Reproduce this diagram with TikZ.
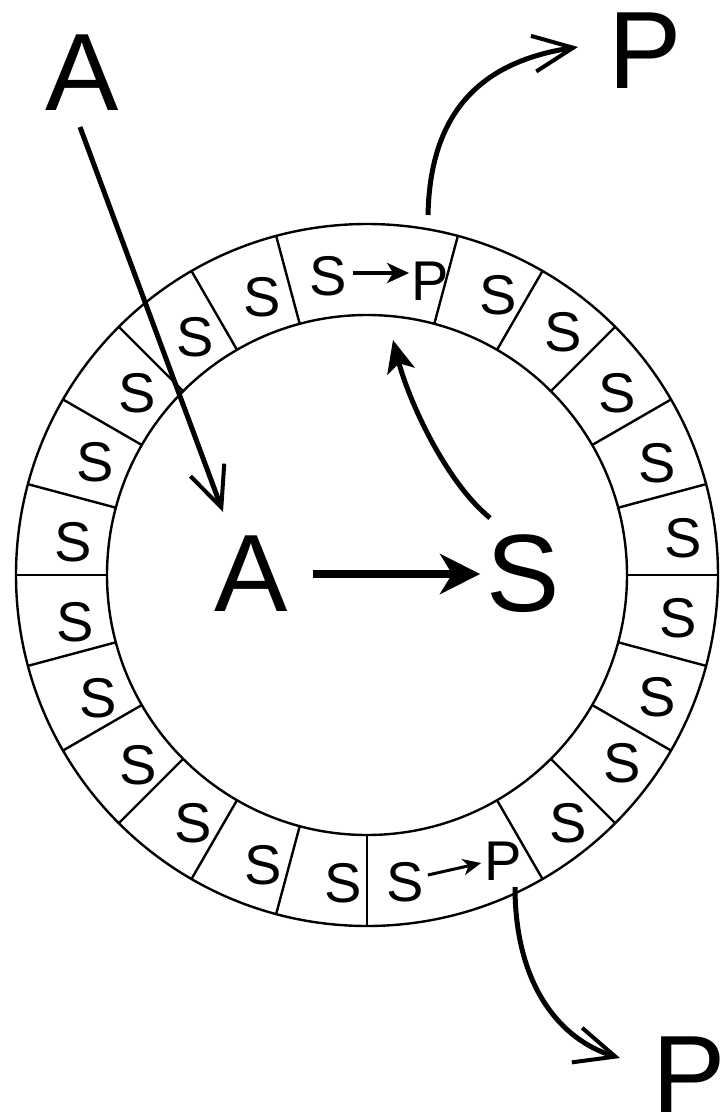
\documentclass[tikz,border=0pt]{standalone}
\usepackage{fontspec}
\setmainfont{Liberation Sans}
\usetikzlibrary{arrows.meta}
\begin{document}
\begin{tikzpicture}[x=1pt,y=-1pt,
  ring/.style={line width=2.4pt},
  bigletter/.style={inner sep=0pt, font=\fontsize{110}{110}\selectfont},
  cellletter/.style={inner sep=0pt, font=\fontsize{56}{56}\selectfont},
  openarrow/.style={line width=5pt, -{Straight Barb[length=40pt,width=36pt,line width=4pt]}},
  bigarrow/.style={line width=8pt, -{Stealth[length=40pt,width=40pt,inset=12pt]}},
  curvearrow/.style={line width=5pt, -{Stealth[length=32pt,width=28pt,inset=8pt]}},
  smallarrow/.style={line width=4pt, -{Stealth[length=22pt,width=20pt,inset=6pt]}},
  tinyarrow/.style={line width=3pt, -{Stealth[length=18pt,width=16pt,inset=5pt]}}
]
\fill[white] (0,0) rectangle (720,1119);
\useasboundingbox (0,0) rectangle (720,1119);

% ring
\coordinate (ctr) at (367,575);
\draw[ring] (ctr) circle[radius=351pt];
\draw[ring] (ctr) circle[radius=260pt];
\foreach \a in {0,15,30,45,60,75,105,120,135,150,165,180,195,210,225,240,255,270,300,315,330,345}
  \draw[ring] ({367+260*cos(\a)},{575-260*sin(\a)}) -- ({367+351*cos(\a)},{575-351*sin(\a)});

% cell letters
\foreach \x/\y [count=\i] in {683/538,657/463,617/393,563/332,498/295,
    262/297,195/337,137/393,95/462,73/542,
    75/622,98/698,138/765,193/823,263/865,343/883,
    568/823,622/763,657/697,678/618}
  \node[cellletter] (cell\i) at (\x,\y) {S};

% S -> P cells
\node[cellletter] (sTop) at (328,276) {S};
\node[cellletter] (pTop) at (430,281) {P};
\draw[smallarrow] ([xshift=6pt,yshift=3pt]sTop.east) -- ([xshift=-2pt,yshift=8pt]pTop.west);
\node[cellletter] (sBot) at (405,882) {S};
\node[cellletter] (pBot) at (503,861) {P};
\draw[tinyarrow] ([xshift=4pt,yshift=7pt]sBot.east) -- ([xshift=-3pt,yshift=-2pt]pBot.west);

% big letters
\node[bigletter] (At) at (82,73) {A};
\node[bigletter] (Ac) at (251,574) {A};
\node[bigletter] (Sc) at (523,574) {S};
\node[bigletter] (Ptop) at (645,51) {P};
\node[bigletter] (Pbot) at (689,1075) {P};

% connectors
\coordinate (aFoot) at (80,127);
\coordinate (aTip) at (223,512);
\draw[openarrow] (aFoot) -- (aTip);

\draw[bigarrow, shorten <=25pt, shorten >=6pt] (Ac) -- (Sc);

\coordinate (sFoot) at (490,518);
\coordinate (ringIn) at (393,340);
\draw[curvearrow] (sFoot) .. controls (444,480) and (408,398) .. (ringIn);

\coordinate (topOut) at (428,215);
\coordinate (pTopTip) at (578,47);
\draw[openarrow] (topOut) .. controls (430,115) and (478,62) .. (pTopTip);

\coordinate (botOut) at (515,887);
\coordinate (pBotTip) at (620,1058);
\draw[openarrow] (botOut) .. controls (515,985) and (560,1040) .. (pBotTip);
\end{tikzpicture}
\end{document}
